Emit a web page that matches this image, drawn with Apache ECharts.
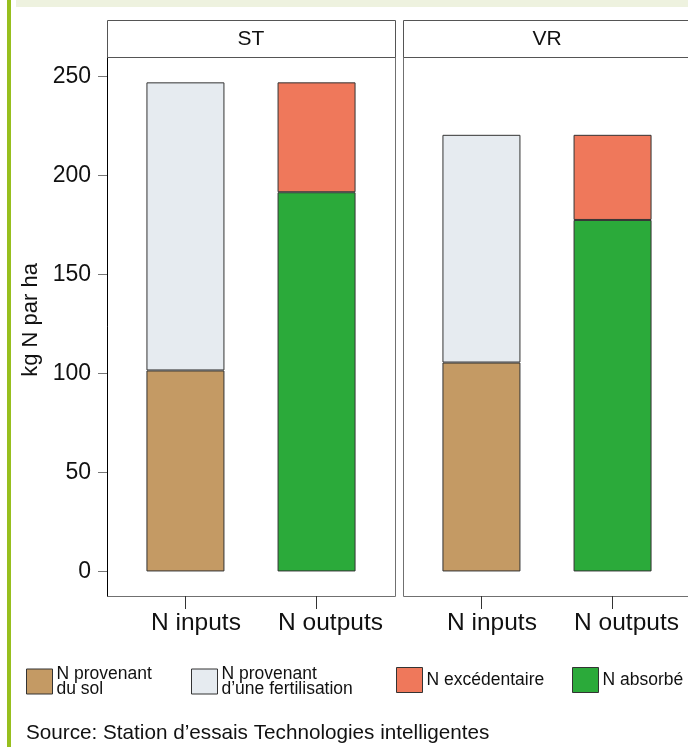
<!DOCTYPE html>
<html>
<head>
<meta charset="utf-8">
<script src="https://cdn.jsdelivr.net/npm/echarts@6/dist/echarts.min.js"></script>
<style>
html,body{margin:0;padding:0;background:#fff;}
#chart{width:688px;height:747px;}
</style>
</head>
<body>
<div id="chart"></div>
<script>
// ---- data ----
const panels = ['ST', 'VR'];
const categories = ['N inputs', 'N outputs'];
const solValues = [101.5, 105.5];            // N provenant du sol (inputs)
const fertilisationValues = [145.5, 115];    // N provenant d'une fertilisation (inputs)
const absorbeValues = [191.5, 177.5];        // N absorbé (outputs)
const excedentaireValues = [55.5, 43];       // N excédentaire (outputs)
const yTicks = [0, 50, 100, 150, 200, 250];
const seriesNames = ['N provenant\ndu sol', 'N provenant\nd\u2019une fertilisation', 'N excédentaire', 'N absorbé'];
const yTitle = 'kg N par ha';
const sourceText = 'Source: Station d\u2019essais Technologies intelligentes';

// ---- styles ----
const FONT = '"Liberation Sans", Arial, Helvetica, sans-serif';
const colors = ['#c49a64', '#e6ebf0', '#ef785b', '#2baa3a'];
const panelLeft = [107, 403];
const panelW = 288;
const inset = 12.9;
const gridTop = 57;
const gridH = 539;

const chart = echarts.init(document.getElementById('chart'), null, {renderer: 'canvas'});

const grids = [], xAxes = [], yAxes = [], series = [];
panels.forEach((p, i) => {
  grids.push({left: panelLeft[i] + inset, top: gridTop, width: panelW - 2 * inset, height: gridH, show: false, containLabel: false});
  xAxes.push({type: 'category', gridIndex: i, data: categories, boundaryGap: true,
    axisLine: {show: false, onZero: false}, splitLine: {show: false},
    axisTick: {show: true, interval: 0, alignWithLabel: true, length: 13, lineStyle: {color: '#333', width: 1}},
    axisLabel: {show: true, interval: 0, hideOverlap: false, margin: 15, fontFamily: FONT, fontSize: 24.5, color: '#111',
      formatter: (v, idx) => '{' + (idx === 0 ? 'a' : 'b') + '|' + v + '}',
      rich: {a: {fontFamily: FONT, fontSize: 24.5, color: '#111', padding: [0, 0, 0, 21]},
             b: {fontFamily: FONT, fontSize: 24.5, color: '#111', padding: [0, 0, 0, 28]}}}});
  yAxes.push({type: 'value', gridIndex: i, min: -12.4, max: 259.8, offset: inset,
    splitLine: {show: false},
    axisLine: {show: i === 0, onZero: false, lineStyle: {color: '#000', width: 1}},
    axisTick: {show: i === 0, customValues: yTicks, length: 9, lineStyle: {color: '#777', width: 1}},
    axisLabel: {show: i === 0, customValues: yTicks, margin: 16, fontFamily: FONT, fontSize: 23, color: '#111'}});
  const common = {type: 'bar', xAxisIndex: i, yAxisIndex: i, barWidth: 78, stack: 'total' + i,
    emphasis: {disabled: true}, silent: true};
  series.push(Object.assign({}, common, {name: seriesNames[0],
    itemStyle: {color: colors[0], borderColor: '#333', borderWidth: 1}, data: [solValues[i], '-']}));
  series.push(Object.assign({}, common, {name: seriesNames[1],
    itemStyle: {color: colors[1], borderColor: '#333', borderWidth: 1}, data: [fertilisationValues[i], '-']}));
  series.push(Object.assign({}, common, {name: seriesNames[3],
    itemStyle: {color: colors[3], borderColor: '#333', borderWidth: 1}, data: ['-', absorbeValues[i]]}));
  series.push(Object.assign({}, common, {name: seriesNames[2],
    itemStyle: {color: colors[2], borderColor: '#333', borderWidth: 1}, data: ['-', excedentaireValues[i]]}));
});

const legendLefts = [26, 191, 396, 572];
const legendTops = [665, 665, 667, 667];
const legends = seriesNames.map((n, k) => ({
  data: [n], left: legendLefts[k], top: legendTops[k], orient: 'horizontal', padding: 0,
  itemWidth: 26, itemHeight: 25, itemGap: 0, selectedMode: false, icon: 'rect',
  itemStyle: {color: colors[k], borderColor: '#333', borderWidth: 1},
  textStyle: {fontFamily: FONT, fontSize: 17.5, lineHeight: 15, color: '#111', padding: [0, 0, 0, -1]}
}));

const graphics = [
  {type: 'rect', shape: {x: 7, y: 0, width: 4, height: 747}, style: {fill: '#97bf1e'}, silent: true},
  {type: 'rect', shape: {x: 16, y: 0, width: 672, height: 7}, style: {fill: '#eef2df'}, silent: true},
  {type: 'text', x: 31, y: 320, rotation: Math.PI / 2,
    style: {text: yTitle, fontFamily: FONT, fontSize: 22, fill: '#111', align: 'center', verticalAlign: 'middle'}},
  {type: 'text', x: 26, y: 733,
    style: {text: sourceText, fontFamily: FONT, fontSize: 20.7, fill: '#111', align: 'left', verticalAlign: 'middle'}}
];
panels.forEach((p, i) => {
  graphics.push({type: 'rect', shape: {x: panelLeft[i] + 0.5, y: 20.5, width: panelW, height: 37},
    style: {fill: '#fff', stroke: '#555', lineWidth: 1}, z: 1});
  graphics.push({type: 'text', x: panelLeft[i] + panelW / 2, y: 39,
    style: {text: p, fontFamily: FONT, fontSize: 21, fill: '#111', align: 'center', verticalAlign: 'middle'}, z: 2});
  graphics.push({type: 'rect', shape: {x: panelLeft[i] + 0.5, y: gridTop + 0.5, width: panelW, height: gridH},
    style: {fill: 'none', stroke: '#707070', lineWidth: 1}, z: 0});
});

chart.setOption({
  animation: false,
  backgroundColor: '#fff',
  grid: grids, xAxis: xAxes, yAxis: yAxes, series: series,
  legend: legends,
  graphic: graphics
});
</script>
</body>
</html>
